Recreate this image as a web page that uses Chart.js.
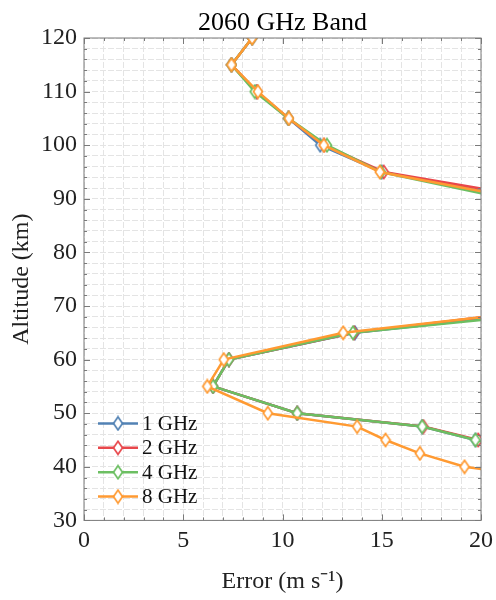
<!DOCTYPE html>
<html>
<head>
<meta charset="utf-8">
<script src="https://cdn.jsdelivr.net/npm/chart.js@4/dist/chart.umd.min.js"></script>
<style>
  html, body { margin: 0; padding: 0; background: #fff; }
</style>
</head>
<body>
<canvas id="chart" width="496" height="600"></canvas>
<script>
// altitudes (km) and errors (m/s); points past x=20 are clipped
const altMain = [120, 115, 110, 105, 100, 95, 90, 70, 65, 60, 55, 50, 47.5, 45, 42.5];
const alt8GHz = [120, 115, 110, 105, 100, 95, 90, 70, 65, 60, 55, 50, 47.5, 45, 42.5, 40, 37.5];

const err1GHz = [8.47, 7.43, 8.7, 10.3, 11.9, 15.0, 22.0, 26.0, 13.65, 7.3, 6.5, 10.74, 17.04, 19.72, 23.0];
const err2GHz = [8.47, 7.43, 8.7, 10.3, 12.1, 15.1, 23.0, 24.6, 13.6, 7.3, 6.5, 10.74, 17.1, 19.86, 23.5];
const err4GHz = [8.47, 7.43, 8.6, 10.3, 12.24, 14.95, 21.3, 27.0, 13.55, 7.3, 6.5, 10.74, 17.04, 19.72, 23.0];
const err8GHz = [8.47, 7.43, 8.76, 10.32, 12.08, 14.9, 22.0, 25.0, 13.06, 7.04, 6.21, 9.26, 13.76, 15.19, 16.92, 19.17, 24.4];

const seriesNames = ['1 GHz', '2 GHz', '4 GHz', '8 GHz'];
const seriesColors = ['#5282b4', '#e8474b', '#6cbf62', '#ff9a32'];

const xTicks = [0, 5, 10, 15, 20];
const yTicks = [30, 40, 50, 60, 70, 80, 90, 100, 110, 120];

const serif = "'Liberation Serif', 'Times New Roman', serif";

function diamond(color) {
  const c = document.createElement('canvas');
  c.width = 12; c.height = 16;
  const g = c.getContext('2d');
  g.beginPath();
  g.moveTo(6, 1.5); g.lineTo(10.5, 8); g.lineTo(6, 14.5); g.lineTo(1.5, 8);
  g.closePath();
  g.fillStyle = '#fff';
  g.fill();
  g.strokeStyle = color;
  g.lineWidth = 1.7;
  g.stroke();
  return c;
}

function pts(xs, ys) {
  return xs.map((x, i) => ({x: x, y: ys[i]}));
}

const allErr = [err1GHz, err2GHz, err4GHz, err8GHz];
const allAlt = [altMain, altMain, altMain, alt8GHz];
const markers = seriesColors.map(diamond);

const datasets = seriesNames.map((name, i) => ({
  label: name,
  data: pts(allErr[i], allAlt[i]),
  showLine: true,
  borderColor: seriesColors[i],
  backgroundColor: '#fff',
  borderWidth: 2.5,
  pointStyle: markers[i],
  pointRadius: 6,
  order: 4 - i
}));

// box, inward ticks and in-axes legend
const decor = {
  id: 'decor',
  afterDraw(chart) {
    const ctx = chart.ctx, a = chart.chartArea;
    const xs = chart.scales.x, ys = chart.scales.y;
    ctx.save();
    ctx.strokeStyle = '#7a7a7a';
    ctx.lineWidth = 1;
    ctx.strokeRect(a.left, a.top, a.right - a.left, a.bottom - a.top);
    ctx.beginPath();
    for (let v = 0; v <= 20; v++) {
      const p = Math.round(xs.getPixelForValue(v)) + 0.5;
      const len = v % 5 === 0 ? 6 : 3;
      ctx.moveTo(p, a.bottom); ctx.lineTo(p, a.bottom - len);
      ctx.moveTo(p, a.top); ctx.lineTo(p, a.top + len);
    }
    for (let v = 30; v <= 120; v += 2) {
      const p = Math.round(ys.getPixelForValue(v)) + 0.5;
      const len = v % 10 === 0 ? 6 : 3;
      ctx.moveTo(a.left, p); ctx.lineTo(a.left + len, p);
      ctx.moveTo(a.right, p); ctx.lineTo(a.right - len, p);
    }
    ctx.stroke();

    // legend
    ctx.font = '21px ' + serif;
    ctx.textBaseline = 'middle';
    ctx.fillStyle = '#111';
    seriesNames.forEach((name, i) => {
      const y = a.bottom - 97 + i * 24.4;
      const x0 = a.left + 14;
      ctx.strokeStyle = seriesColors[i];
      ctx.lineWidth = 2.5;
      ctx.beginPath();
      ctx.moveTo(x0, y); ctx.lineTo(x0 + 40, y);
      ctx.stroke();
      const m = markers[i];
      ctx.drawImage(m, x0 + 20 - m.width / 2, y - m.height / 2);
      ctx.fillText(name, x0 + 44, y + 1);
    });
    ctx.restore();
  }
};

new Chart(document.getElementById('chart'), {
  type: 'scatter',
  data: { datasets: datasets },
  options: {
    responsive: false,
    animation: false,
    layout: { padding: { left: 10, right: 0, top: 0, bottom: 4 } },
    plugins: {
      legend: { display: false },
      tooltip: { enabled: false },
      title: {
        display: true,
        fullSize: false,
        text: '2060 GHz Band',
        color: '#000',
        font: { family: serif, size: 26, weight: 'normal', lineHeight: 1 },
        padding: { top: 10, bottom: 2 }
      }
    },
    scales: {
      x: {
        type: 'linear',
        min: 0, max: 20,
        afterFit: s => { s.paddingRight = 15; },
        ticks: {
          stepSize: 1,
          autoSkip: false,
          maxRotation: 0,
          padding: 6,
          color: '#222',
          font: { family: serif, size: 24 },
          callback: v => xTicks.includes(v) ? String(v) : ''
        },
        grid: { color: '#e4e4e4', drawTicks: false },
        border: { display: false, dash: [6, 2] },
        title: {
          display: true,
          text: 'Error (m s\u207B\u00B9)',
          color: '#222',
          font: { family: serif, size: 24 },
          padding: { top: 6, bottom: 0 }
        }
      },
      y: {
        type: 'linear',
        min: 30, max: 120,
        ticks: {
          stepSize: 2,
          autoSkip: false,
          padding: 7,
          color: '#222',
          font: { family: serif, size: 24 },
          callback: v => yTicks.includes(v) ? String(v) : ''
        },
        grid: { color: '#e4e4e4', drawTicks: false },
        border: { display: false, dash: [6, 2] },
        title: {
          display: true,
          text: 'Altitude (km)',
          color: '#222',
          font: { family: serif, size: 24, lineHeight: 1 },
          padding: { top: 0, bottom: 0 }
        }
      }
    }
  },
  plugins: [decor]
});
</script>
</body>
</html>
